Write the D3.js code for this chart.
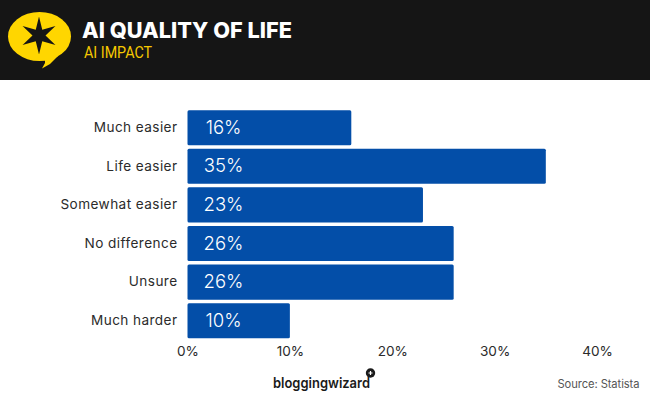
<!DOCTYPE html>
<html>
<head>
<meta charset="utf-8">
<script src="https://cdn.jsdelivr.net/npm/d3@7"></script>
<style>
html,body{margin:0;padding:0;background:#fff;overflow:hidden}
svg{display:block}
text{font-family:Inter,"Open Sans",sans-serif}
</style>
</head>
<body>
<svg id="c" width="650" height="400"></svg>
<script>
const categories = ["Much easier","Life easier","Somewhat easier","No difference","Unsure","Much harder"];
const values = [16,35,23,26,26,10];
const xTicks = [0,10,20,30,40];
const title = "AI QUALITY OF LIFE";
const subtitle = "AI IMPACT";
const source = "Source: Statista";
const brand = "bloggingwizard";

const svg = d3.select("#c");
svg.append("rect").attr("width",650).attr("height",80).attr("fill","#151515");

// logo bubble
const logo = svg.append("g");
logo.append("ellipse").attr("cx",39.5).attr("cy",36.5).attr("rx",31.5).attr("ry",24.5).attr("fill","#ffd600");
logo.append("path").attr("d","M40 56 L45 59 L45 63 L42 68.5 L50 64 L58 56 Z").attr("fill","#ffd600");
const star = d3.range(12).map(i=>{
  const a = i*Math.PI/6 - Math.PI/2, r = i%2===0 ? 19 : 6.5;
  return [r*Math.cos(a), r*Math.sin(a)];
});
logo.append("path").attr("transform","translate(39,35.5)")
  .attr("d", d3.line()(star)+"Z").attr("fill","#151515");

svg.append("text").attr("x",82).attr("y",38).attr("fill","#fff")
  .attr("font-size",21.5).attr("font-weight",800).attr("textLength",210).attr("lengthAdjust","spacingAndGlyphs").text(title);
svg.append("text").attr("x",84).attr("y",58).attr("fill","#f5c800")
  .style("font-family","Roboto").attr("font-size",16).attr("textLength",68).attr("lengthAdjust","spacingAndGlyphs").text(subtitle);

const x = d3.scaleLinear().domain([0,40]).range([187.5,597]);
const y = d3.scaleBand().domain(categories).range([108.2,340.2]).paddingInner(0.093).paddingOuter(0.05);

svg.append("g").selectAll("rect").data(values).join("rect")
  .attr("x",x(0)).attr("y",(d,i)=>y(categories[i]))
  .attr("width",d=>x(d)-x(0)).attr("height",y.bandwidth())
  .attr("rx",1.5).attr("fill","#034ea8");

svg.append("g").selectAll("text").data(values).join("text")
  .attr("x",223.5).attr("y",(d,i)=>y(categories[i])+y.bandwidth()/2+6)
  .attr("text-anchor","middle").attr("fill","#fff").attr("font-size",18.5).attr("font-weight",300)
  .text(d=>d+"%");

const yAxis = d3.axisLeft(y).tickSize(0).tickPadding(10);
const yG = svg.append("g").attr("transform",`translate(${x(0)},0)`).call(yAxis);
yG.select(".domain").remove();
yG.selectAll("text").attr("font-size",13.6).attr("fill","#2b2b2b").attr("font-weight",400)
  .style("font-family","Inter").style("letter-spacing","0.42px");

const xAxis = d3.axisBottom(x).tickValues(xTicks).tickSize(0).tickPadding(0).tickFormat(d=>d+"%");
const xG = svg.append("g").attr("transform","translate(0,346)").call(xAxis);
xG.select(".domain").remove();
xG.selectAll("text").attr("font-size",13.6).attr("fill","#2b2b2b").style("font-family","Inter");

svg.append("text").attr("x",273).attr("y",388).attr("fill","#1a1a1a")
  .attr("font-size",14.5).attr("font-weight",600).attr("textLength",97).attr("lengthAdjust","spacingAndGlyphs").text(brand);
svg.append("circle").attr("cx",370.5).attr("cy",373).attr("r",4.7).attr("fill","#1a1a1a");
svg.append("path").attr("d","M368.5 373H372.5M370.5 371V375").attr("stroke","#fff").attr("stroke-width",1.2);

svg.append("text").attr("x",639.5).attr("y",388).attr("text-anchor","end").attr("fill","#555")
  .attr("font-size",11.2).attr("textLength",82).attr("lengthAdjust","spacing").text(source);
</script>
</body>
</html>
